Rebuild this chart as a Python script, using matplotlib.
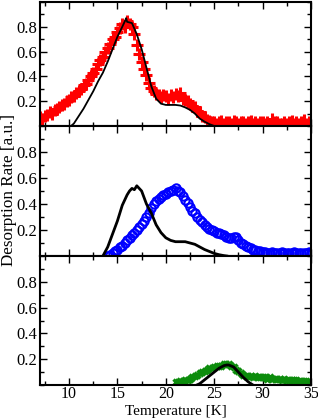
import matplotlib
matplotlib.use("Agg")
import matplotlib.pyplot as plt
import numpy as np
from matplotlib.ticker import MultipleLocator

# -----------------------------------------------------------------------------
# Data (temperature in K, desorption rate in a.u.)
# -----------------------------------------------------------------------------

red_T = np.arange(7.0, 35.01, 0.25)
red_rate = [
    0.07, 0.06, 0.08, 0.09, 0.11, 0.10, 0.13, 0.14, 0.15, 0.17,
    0.18, 0.20, 0.21, 0.23, 0.24, 0.27, 0.28, 0.30, 0.33, 0.34,
    0.37, 0.40, 0.43, 0.46, 0.50, 0.53, 0.56, 0.60, 0.63, 0.66,
    0.70, 0.72, 0.76, 0.79, 0.82, 0.80, 0.85, 0.82, 0.80, 0.74,
    0.65, 0.58, 0.52, 0.46, 0.41, 0.35, 0.31, 0.28, 0.26, 0.25,
    0.23, 0.25, 0.24, 0.22, 0.25, 0.23, 0.26, 0.24, 0.27, 0.22,
    0.21, 0.20, 0.18, 0.16, 0.15, 0.12, 0.11, 0.08, 0.07, 0.05,
    0.04, 0.03, 0.03,
    0.02, 0.03, 0.04, 0.02, 0.03, 0.03, 0.02, 0.04, 0.03, 0.02,
    0.03, 0.03, 0.02, 0.03, 0.04, 0.02, 0.03, 0.02, 0.03, 0.03,
    0.02, 0.03, 0.02, 0.06, 0.03, 0.03, 0.02, 0.02, 0.03, 0.02,
    0.03, 0.04, 0.02, 0.03, 0.02, 0.03, 0.05, 0.02, 0.03, 0.03,
]

fit_top_T = [10.2, 10.5, 11.0, 11.5, 12.0, 12.5, 13.0, 13.5, 14.0, 14.5,
             15.0, 15.5, 15.8, 15.9, 16.0, 16.5, 17.0, 17.5, 18.0, 18.5,
             19.0, 19.5, 20.0, 21.0, 21.5, 22.0, 22.5, 23.0, 23.5, 24.0,
             24.5, 25.0]
fit_top_rate = [0.0, 0.02, 0.08, 0.14, 0.21, 0.28, 0.36, 0.43, 0.52, 0.62,
                0.72, 0.80, 0.85, 0.87, 0.84, 0.83, 0.74, 0.62, 0.47, 0.32,
                0.22, 0.18, 0.17, 0.17, 0.165, 0.15, 0.13, 0.10, 0.06, 0.035,
                0.015, 0.0]

blue_T = np.arange(14.0, 35.01, 0.25)
blue_rate = [
    0.00, 0.01, 0.02, 0.04, 0.05, 0.07, 0.08, 0.10, 0.12, 0.14,
    0.16, 0.18, 0.20, 0.22, 0.25, 0.27, 0.30, 0.33, 0.37, 0.40,
    0.42, 0.44, 0.45, 0.47, 0.48, 0.49, 0.50, 0.51, 0.52, 0.50,
    0.49, 0.46, 0.43, 0.41, 0.38, 0.35, 0.33, 0.30, 0.28, 0.26,
    0.24, 0.22, 0.21, 0.20, 0.19, 0.18, 0.18, 0.17, 0.16, 0.15,
    0.14, 0.14, 0.15, 0.15, 0.12, 0.10, 0.09, 0.08, 0.07, 0.06,
    0.05, 0.05, 0.04, 0.04, 0.03,
    0.03, 0.02, 0.02, 0.03, 0.02, 0.02, 0.02, 0.03, 0.02, 0.02,
    0.02, 0.02, 0.03, 0.02, 0.02, 0.02, 0.02, 0.02, 0.03, 0.02,
]

fit_mid_T = [13.5, 14.0, 14.5, 15.0, 15.5, 16.0, 16.25, 16.5, 16.75, 17.0,
             17.25, 17.5, 18.0, 18.5, 19.0, 19.5, 20.0, 20.5, 21.0, 21.5,
             22.0, 22.5, 23.0, 23.5, 24.0, 24.5, 25.0, 25.5, 26.0, 26.3]
fit_mid_rate = [0.0, 0.07, 0.17, 0.27, 0.39, 0.47, 0.50, 0.52, 0.51, 0.54,
                0.52, 0.50, 0.40, 0.33, 0.24, 0.18, 0.14, 0.12, 0.11, 0.11,
                0.11, 0.10, 0.09, 0.07, 0.05, 0.035, 0.02, 0.01, 0.003, 0.0]

green_T = np.arange(21.0, 35.01, 0.25)
green_rate = [
    0.02, 0.02, 0.03, 0.03, 0.04, 0.04, 0.05, 0.06, 0.07, 0.08,
    0.09, 0.10, 0.11, 0.12, 0.13, 0.13, 0.14, 0.15, 0.15, 0.15,
    0.16, 0.16, 0.16, 0.15, 0.14, 0.12, 0.11, 0.09, 0.08, 0.07,
    0.07, 0.07, 0.06, 0.07, 0.06, 0.06, 0.06, 0.06, 0.05, 0.06,
    0.05, 0.05, 0.05, 0.05, 0.04, 0.05, 0.04, 0.04, 0.04, 0.04,
    0.04, 0.03, 0.03, 0.03, 0.03, 0.02, 0.02,
]

fit_bot_T = [23.2, 23.5, 24.0, 24.5, 25.0, 25.5, 26.0, 26.3, 26.5, 27.0,
             27.5, 28.0, 28.5, 29.0]
fit_bot_rate = [0.0, 0.01, 0.04, 0.07, 0.10, 0.13, 0.15, 0.155, 0.155, 0.14,
                0.10, 0.06, 0.025, 0.0]

y_ticks = [0.2, 0.4, 0.6, 0.8]
x_ticks = [10, 15, 20, 25, 30, 35]

# -----------------------------------------------------------------------------
# Figure
# -----------------------------------------------------------------------------

plt.rcParams["font.family"] = ["Liberation Serif", "DejaVu Serif"]

W, H = 318, 418
fig = plt.figure(figsize=(W / 100, H / 100), dpi=100)

left, right = 40, 311
panel_px = [(2, 126), (126, 256), (256, 385)]
axes = []
for top, bottom in panel_px:
    ax = fig.add_axes([left / W, 1 - bottom / H, (right - left) / W, (bottom - top) / H])
    axes.append(ax)

ax_top, ax_mid, ax_bot = axes

ax_top.plot(red_T, red_rate, linestyle="none", marker="+", ms=8, mew=2.2,
            color="#ff0000")
ax_top.plot(fit_top_T, fit_top_rate, color="black", lw=1.3)

ax_mid.plot(blue_T, blue_rate, linestyle="none", marker="o", ms=6, mew=1.5,
            mfc="none", mec="#0000ff")
ax_mid.plot(fit_mid_T, fit_mid_rate, color="black", lw=2.0)

ax_bot.plot(green_T, green_rate, linestyle="none", marker="x", ms=5, mew=2.4,
            color="#0c8c0c")
ax_bot.plot(fit_bot_T, fit_bot_rate, color="black", lw=2.0)

for ax in axes:
    ax.set_xlim(7, 35)
    ax.set_ylim(0, 1.0)
    ax.set_xticks(x_ticks)
    ax.set_yticks(y_ticks)
    ax.xaxis.set_minor_locator(MultipleLocator(2.5))
    ax.yaxis.set_minor_locator(MultipleLocator(0.1))
    ax.tick_params(which="both", direction="in", top=True, right=True,
                   width=1.0, colors="black")
    ax.tick_params(axis="y", labelsize=12, pad=2)
    ax.tick_params(axis="x", labelsize=11.5, pad=1)
    ax.tick_params(which="major", length=5)
    ax.tick_params(which="minor", length=3)
    ax.set_yticklabels([f"{v:.1f}" for v in y_ticks])
    for spine in ax.spines.values():
        spine.set_linewidth(1.5)

ax_top.tick_params(labelbottom=False)
ax_mid.tick_params(labelbottom=False)
ax_bot.set_xticklabels([str(v) for v in x_ticks])

fig.text(175.5 / W, 1 - 417.5 / H, "Temperature [K]", ha="center", va="bottom",
         fontsize=11)
fig.text(9 / W, 1 - 190 / H, "Desorption Rate [a.u.]", ha="center",
         va="center", rotation=90, fontsize=12.3)

fig.savefig("out.png", dpi=100)
